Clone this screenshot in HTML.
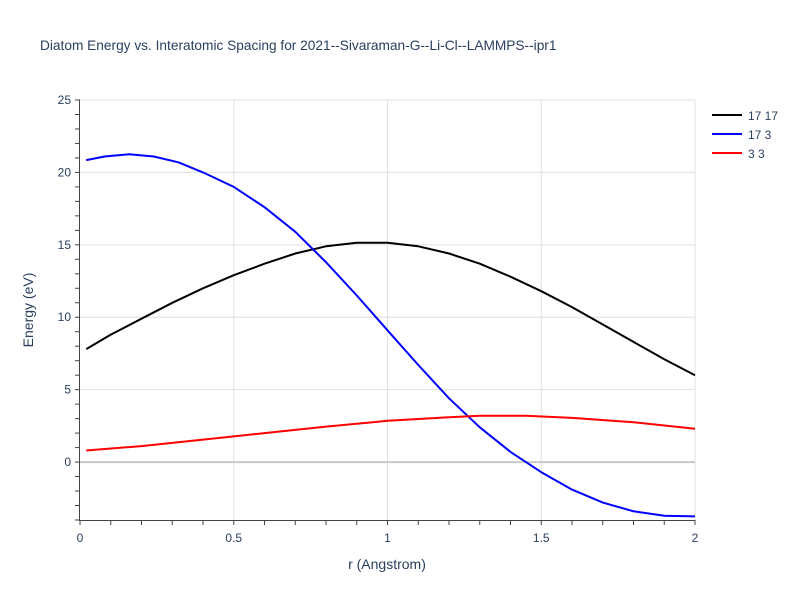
<!DOCTYPE html>
<html><head><meta charset="utf-8"><style>
body{margin:0;background:#fff;}
svg{font-family:"Liberation Sans",sans-serif;}
</style></head><body>
<svg id="chart" width="800" height="600" xmlns="http://www.w3.org/2000/svg">
<rect width="800" height="600" fill="#fff"/>
<text x="40" y="50" font-size="13.7" fill="#2a3f5f">Diatom Energy vs. Interatomic Spacing for 2021--Sivaraman-G--Li-Cl--LAMMPS--ipr1</text>
<g id="grid"></g><g id="axes"></g><g id="series"></g>
<text x="387" y="569" font-size="14" fill="#2a3f5f" text-anchor="middle">r (Angstrom)</text>
<text transform="translate(33,310) rotate(-90)" font-size="14" fill="#2a3f5f" text-anchor="middle">Energy (eV)</text>
<g id="legend"></g>
</svg>
<script>
const seriesNames=["17 17","17 3","3 3"];
const seriesColors=["#000000","#0000ff","#ff0000"];
const blackR=[0.02,0.1,0.2,0.3,0.4,0.5,0.6,0.7,0.8,0.9,1.0,1.1,1.2,1.3,1.4,1.5,1.6,1.7,1.8,1.9,2.0];
const blackE=[7.8,8.8,9.9,11.0,12.0,12.9,13.7,14.4,14.9,15.15,15.15,14.9,14.4,13.7,12.8,11.8,10.7,9.5,8.3,7.1,6.0];
const blueR=[0.02,0.08,0.16,0.24,0.32,0.4,0.5,0.6,0.7,0.8,0.9,1.0,1.1,1.2,1.3,1.4,1.5,1.6,1.7,1.8,1.9,2.0];
const blueE=[20.85,21.1,21.25,21.1,20.7,20.0,19.0,17.6,15.9,13.8,11.5,9.1,6.7,4.4,2.4,0.7,-0.7,-1.9,-2.8,-3.4,-3.7,-3.75];
const redR=[0.02,0.2,0.4,0.6,0.8,1.0,1.2,1.3,1.45,1.6,1.8,2.0];
const redE=[0.8,1.1,1.55,2.0,2.45,2.85,3.1,3.2,3.2,3.05,2.75,2.3];
const xTicks=[0,0.5,1,1.5,2];
const xTickLabels=["0","0.5","1","1.5","2"];
const yTicks=[0,5,10,15,20,25];
const yTickLabels=["0","5","10","15","20","25"];
const X0=80,X1=695,Y0=520,Y1=100,xmin=0,xmax=2,ymin=-4,ymax=25;
const sx=v=>X0+(v-xmin)/(xmax-xmin)*(X1-X0);
const sy=v=>Y0-(v-ymin)/(ymax-ymin)*(Y0-Y1);
const NS="http://www.w3.org/2000/svg";
function mk(tag,attrs,parent){const e=document.createElementNS(NS,tag);for(const k in attrs)e.setAttribute(k,attrs[k]);parent.appendChild(e);return e;}
const grid=document.getElementById('grid'),axes=document.getElementById('axes'),ser=document.getElementById('series'),leg=document.getElementById('legend');
xTicks.forEach((t,i)=>{
 if(t>0){const l=mk('line',{x1:sx(t),x2:sx(t),y1:Y1,y2:Y0,stroke:'#e0e0e0','stroke-width':1},grid);
 
 }
 const tx=mk('text',{x:sx(t),y:Y0+22,'font-size':12,fill:'#2a3f5f','text-anchor':'middle'},axes);
 tx.textContent=xTickLabels[i];
 
 
});
yTicks.forEach((t,i)=>{
 const l=mk('line',{x1:X0,x2:X1,y1:sy(t),y2:sy(t),stroke:t===0?'#c8c8c8':'#e0e0e0','stroke-width':t===0?2:1},grid);
 
 
 const tx=mk('text',{x:X0-9,y:sy(t)+4,'font-size':12,fill:'#2a3f5f','text-anchor':'end'},axes);
 tx.textContent=yTickLabels[i];
 
 
});
for(let v=ymin;v<=ymax;v++){mk('line',{x1:X0-5,x2:X0,y1:sy(v),y2:sy(v),stroke:'#444','stroke-width':1},axes);}
for(let k=0;k<=20;k++){const v=k/10;mk('line',{x1:sx(v),x2:sx(v),y1:Y0,y2:Y0+5,stroke:'#444','stroke-width':1},axes);}
const ya=mk('line',{x1:X0-0.5,x2:X0-0.5,y1:Y1,y2:Y0,stroke:'#444','stroke-width':1},axes);


const xa=mk('line',{x1:X0-1,x2:X1,y1:Y0+0.5,y2:Y0+0.5,stroke:'#444','stroke-width':1},axes);


const allR=[blackR,blueR,redR],allE=[blackE,blueE,redE],lnames=['series-17-17','series-17-3','series-3-3'];
allR.forEach((rs,i)=>{
 const d=rs.map((r,j)=>(j?'L':'M')+sx(r).toFixed(1)+','+sy(allE[i][j]).toFixed(1)).join(' ');
 const p=mk('path',{d:d,fill:'none',stroke:seriesColors[i],'stroke-width':2,'stroke-linejoin':'round'},ser);
 
 
 const g=mk('g',{},leg);
 
 
 const ly=115+i*19;
 mk('line',{x1:712,x2:742,y1:ly,y2:ly,stroke:seriesColors[i],'stroke-width':2},g);
 const t=mk('text',{x:748,y:ly+5,'font-size':12,fill:'#2a3f5f'},g);
 t.textContent=seriesNames[i];
});
</script>
</body></html>
